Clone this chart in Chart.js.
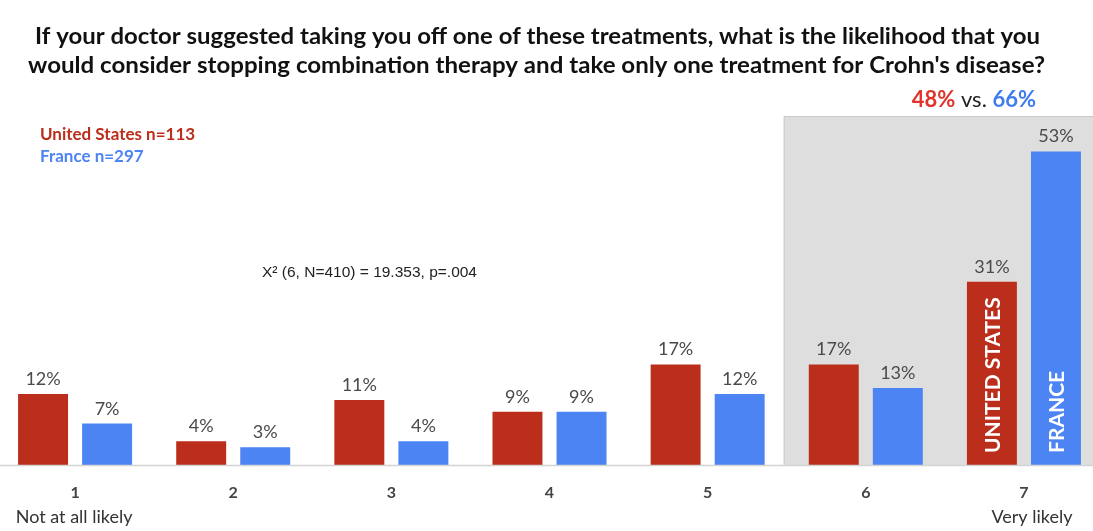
<!DOCTYPE html>
<html>
<head>
<meta charset="utf-8">
<script src="https://cdn.jsdelivr.net/npm/chart.js@4/dist/chart.umd.min.js"></script>
<style>
  html, body { margin: 0; padding: 0; background: #fff; overflow: hidden; }
  #wrap { position: absolute; left: -5px; top: 0; width: 1108px; height: 531px; }
</style>
</head>
<body>
<div id="wrap"><canvas id="grafico"></canvas></div>
<script>
const categories = ['1', '2', '3', '4', '5', '6', '7'];
const subLabels = ['Not at all likely', '', '', '', '', '', 'Very likely'];
const usValues = [12, 4, 11, 9, 17, 17, 31];
const franceValues = [7, 3, 4, 9, 12, 13, 53];
const seriesNames = ['United States n=113', 'France n=297'];
const barNames = ['UNITED STATES', 'FRANCE'];
const titleLines = [
    'If your doctor suggested taking you off one of these treatments, what is the likelihood that you',
    "would consider stopping combination therapy and take only one treatment for Crohn's disease?"
];
const summary = ['48%', ' vs. ', '66%'];
const statText = 'X\u00B2 (6, N=410) = 19.353, p=.004';

const RED = '#bb2e1b';
const BLUE = '#4c84f4';
const OX = 5; // canvas is shifted 5px left of the page

// draws text squeezed/stretched to a given width, centred on cx
function textoAncho(ctx, txt, cx, y, ancho) {
    const w = ctx.measureText(txt).width;
    ctx.save();
    ctx.translate(cx, y);
    ctx.scale(ancho / w, 1);
    ctx.textAlign = 'center';
    ctx.fillText(txt, 0, 0);
    ctx.restore();
}

const textos = {
    id: 'textos',
    beforeDatasetsDraw(chart) {
        const { ctx, chartArea, scales } = chart;
        const x = scales.x;
        // shaded area behind categories 6 and 7
        const left = (x.getPixelForValue(4) + x.getPixelForValue(5)) / 2 - 3;
        ctx.save();
        ctx.fillStyle = '#dedede';
        ctx.strokeStyle = '#c9c9c9';
        ctx.fillRect(left, chartArea.top, chart.width - left + 5, chartArea.bottom - chartArea.top);
        ctx.strokeRect(left + 0.5, chartArea.top + 0.5, chart.width, chartArea.bottom - chartArea.top);
        ctx.restore();
    },
    afterDatasetsDraw(chart) {
        const { ctx, chartArea, scales } = chart;
        const x = scales.x;
        ctx.save();
        // baseline
        ctx.strokeStyle = '#d4d4d4';
        ctx.lineWidth = 1.5;
        ctx.beginPath();
        ctx.moveTo(0, chartArea.bottom + 0.5);
        ctx.lineTo(chart.width, chartArea.bottom + 0.5);
        ctx.stroke();

        // title
        ctx.fillStyle = '#111';
        ctx.font = 'bold 22px Lato';
        ctx.textBaseline = 'middle';
        textoAncho(ctx, titleLines[0], 537.5 + OX, 37, 1005);
        textoAncho(ctx, titleLines[1], 536.5 + OX, 66, 1017);

        // 48% vs. 66%
        ctx.textAlign = 'left';
        const colors = ['#e0332b', '#222', '#3f7cf0'];
        const fonts = ['bold 22px Lato', '22px Lato', 'bold 22px Lato'];
        let total = 0;
        summary.forEach((t, i) => { ctx.font = fonts[i]; total += ctx.measureText(t).width; });
        let sx = 1036 + OX - total;
        summary.forEach((t, i) => {
            ctx.font = fonts[i];
            ctx.fillStyle = colors[i];
            ctx.fillText(t, sx, 100);
            sx += ctx.measureText(t).width;
        });

        // legend text
        ctx.font = 'bold 17px Lato';
        ctx.fillStyle = RED;
        ctx.fillText(seriesNames[0], 40 + OX, 135);
        ctx.fillStyle = BLUE;
        ctx.fillText(seriesNames[1], 40 + OX, 157);

        // statistics note
        ctx.font = '15.5px "Liberation Sans"';
        ctx.fillStyle = '#222';
        ctx.fillText(statText, 262 + OX, 273);

        // value labels and in-bar names
        chart.data.datasets.forEach((ds, di) => {
            chart.getDatasetMeta(di).data.forEach((bar, i) => {
                ctx.font = '18px Lato';
                ctx.fillStyle = '#4a4a4a';
                ctx.textAlign = 'center';
                ctx.textBaseline = 'alphabetic';
                ctx.fillText(ds.data[i] + '%', bar.x, bar.y - 9);
                if (i === categories.length - 1) {
                    ctx.save();
                    ctx.translate(bar.x, chartArea.bottom - 12);
                    ctx.rotate(-Math.PI / 2);
                    ctx.font = 'bold 21px Lato';
                    ctx.fillStyle = '#fff';
                    ctx.textAlign = 'left';
                    ctx.textBaseline = 'middle';
                    ctx.fillText(barNames[di], 0, 1);
                    ctx.restore();
                }
            });
        });

        // axis labels
        categories.forEach((c, i) => {
            const px = x.getPixelForValue(i);
            ctx.textAlign = 'center';
            ctx.textBaseline = 'middle';
            ctx.font = 'bold 16px Lato';
            ctx.fillStyle = '#444';
            ctx.fillText(c, px, 493);
            if (subLabels[i]) {
                ctx.font = '18px Lato';
                ctx.fillStyle = '#333';
                ctx.fillText(subLabels[i], px + (i === 0 ? -1 : 8), 517);
            }
        });
        ctx.restore();
    }
};

new Chart(document.querySelector('#grafico'), {
    type: 'bar',
    data: {
        labels: categories,
        datasets: [
            { label: seriesNames[0], data: usValues, backgroundColor: RED },
            { label: seriesNames[1], data: franceValues, backgroundColor: BLUE },
        ],
    },
    options: {
        responsive: true,
        maintainAspectRatio: false,
        animation: false,
        datasets: { bar: { categoryPercentage: 0.81, barPercentage: 0.78 } },
        layout: { padding: { top: 116, bottom: 66, left: 1, right: 0 } },
        plugins: { legend: { display: false }, tooltip: { enabled: false } },
        scales: {
            x: {
                ticks: { display: false },
                grid: { display: false, drawTicks: false },
                border: { display: false },
            },
            y: {
                display: false,
                min: 0,
                max: 59,
            },
        },
    },
    plugins: [textos],
});
</script>
</body>
</html>
